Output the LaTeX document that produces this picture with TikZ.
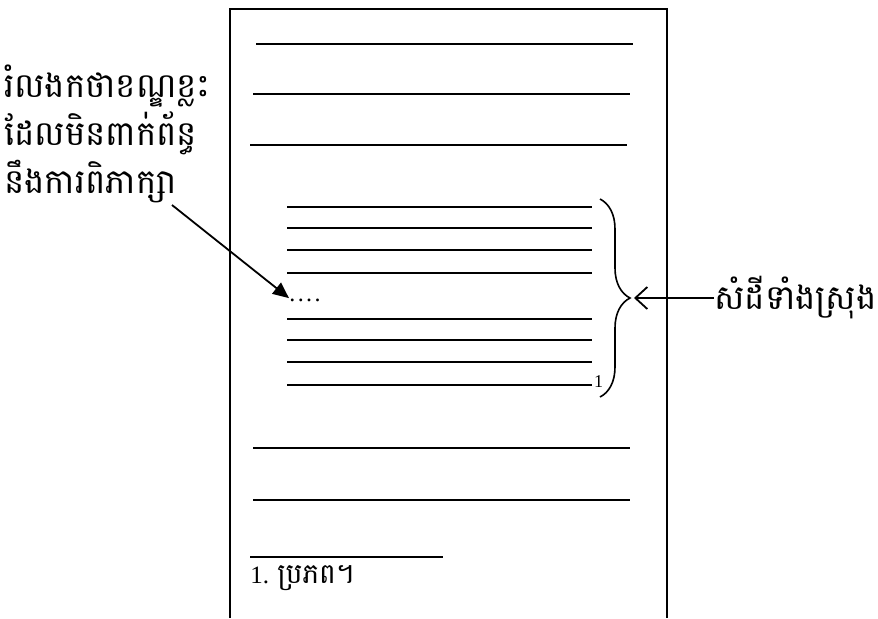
\documentclass[tikz,border=0pt]{standalone}
\usepackage{fontspec}
\setmainfont{Liberation Serif}
\newfontfamily\khmer[Script=Khmer]{Battambang}
\usetikzlibrary{positioning,arrows.meta,decorations.pathreplacing}

\begin{document}
\begin{tikzpicture}[x=0.5pt,y=-0.5pt,
  rule/.style={line width=1pt},
  khtext/.style={font=\khmer\fontsize{17}{24}\selectfont,inner sep=0pt,align=left}]
\useasboundingbox (0,0) rectangle (878,618);
% ---- page ----
\draw[line width=0.9pt] (230,618) -- (230,9) -- (667,9) -- (667,618);
\draw[rule] (256,44) -- (633,44);
\draw[rule] (253,94) -- (630,94);
\draw[rule] (250,145) -- (627,145);
% ---- quotation ----
\foreach \y in {207,228,250,273,319,340,362} \draw[rule] (287,\y) -- (592,\y);
\draw[rule] (287,385) -- (592,385) node[right=0pt,inner sep=0.5pt,yshift=1.5pt,font=\fontsize{9}{10}\selectfont] (mark) {1};
\node[inner sep=0pt,anchor=base west] (gap) at (289,301) {\fontsize{12}{14}\selectfont.\kern1.2pt.\kern1.2pt.\kern1.2pt.};
\draw[line width=0.8pt,decorate,decoration={brace,amplitude=15pt}] (600,199) -- (600,397);
\coordinate (bracetip) at (634,298);
% ---- after ----
\draw[rule] (253,448) -- (630,448);
\draw[rule] (253,500) -- (630,500);
\draw[rule] (250,557) -- (443,557);
\node[anchor=west,inner sep=0pt,font=\fontsize{12.5}{15}\selectfont] (source) at (250,578) {1. {\khmer\fontsize{14}{16}\selectfont ប្រភព។}};
% ---- labels ----
\node[khtext,anchor=west] (skip) at (4,134) {រំលងកថាខណ្ឌខ្លះ\\ដែលមិនពាក់ព័ន្ធ\\នឹងការពិភាក្សា};
\node[khtext,anchor=west] (whole) at (714,298) {សំដីទាំងស្រុង};
\coordinate (skipend) at (172,205);
\draw[line width=0.9pt,-{Triangle[length=8pt,width=7pt]}] (skipend) -- (gap.north west);
\draw[line width=0.9pt,-{Straight Barb[length=6pt,width=11pt]}] (whole.west) -- (bracetip);
\end{tikzpicture}
\end{document}
